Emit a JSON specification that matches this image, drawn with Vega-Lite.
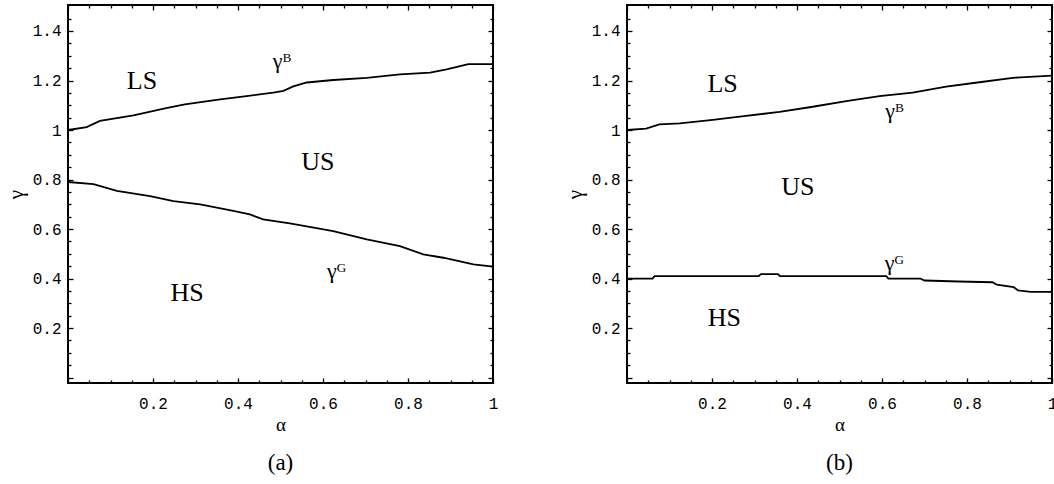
{
  "$schema": "https://vega.github.io/schema/vega-lite/v6.json",
  "background": "white",
  "padding": {"left": 4, "top": 3, "right": 1, "bottom": 0},
  "bounds": "flush",
  "spacing": 134,
  "config": {
    "view": {"stroke": "black", "strokeWidth": 2},
    "font": "Liberation Serif",
    "axis": {
      "grid": false,
      "domain": false,
      "tickColor": "black",
      "tickWidth": 1.3,
      "labelFont": "Liberation Mono",
      "labelFontSize": 16,
      "labelColor": "black",
      "labelOverlap": false,
      "labelFlush": false,
      "titleFont": "Liberation Serif",
      "titleFontWeight": "normal",
      "titleColor": "black"
    },
    "title": {"font": "Liberation Serif", "fontSize": 23, "fontWeight": "normal", "color": "black"}
  },
  "datasets": {
    "curves": [
      {"panel": "a", "curve": "B", "alpha": 0, "gamma": 1.0},
      {"panel": "a", "curve": "B", "alpha": 0.044, "gamma": 1.012},
      {"panel": "a", "curve": "B", "alpha": 0.075, "gamma": 1.037},
      {"panel": "a", "curve": "B", "alpha": 0.154, "gamma": 1.059},
      {"panel": "a", "curve": "B", "alpha": 0.231, "gamma": 1.088},
      {"panel": "a", "curve": "B", "alpha": 0.275, "gamma": 1.104},
      {"panel": "a", "curve": "B", "alpha": 0.358, "gamma": 1.124},
      {"panel": "a", "curve": "B", "alpha": 0.42, "gamma": 1.137},
      {"panel": "a", "curve": "B", "alpha": 0.483, "gamma": 1.151},
      {"panel": "a", "curve": "B", "alpha": 0.507, "gamma": 1.158},
      {"panel": "a", "curve": "B", "alpha": 0.53, "gamma": 1.176},
      {"panel": "a", "curve": "B", "alpha": 0.562, "gamma": 1.192},
      {"panel": "a", "curve": "B", "alpha": 0.624, "gamma": 1.202},
      {"panel": "a", "curve": "B", "alpha": 0.703, "gamma": 1.211},
      {"panel": "a", "curve": "B", "alpha": 0.781, "gamma": 1.225},
      {"panel": "a", "curve": "B", "alpha": 0.852, "gamma": 1.232},
      {"panel": "a", "curve": "B", "alpha": 0.891, "gamma": 1.245},
      {"panel": "a", "curve": "B", "alpha": 0.942, "gamma": 1.266},
      {"panel": "a", "curve": "B", "alpha": 1.0, "gamma": 1.266},
      {"panel": "a", "curve": "G", "alpha": 0, "gamma": 0.79},
      {"panel": "a", "curve": "G", "alpha": 0.06, "gamma": 0.781},
      {"panel": "a", "curve": "G", "alpha": 0.115, "gamma": 0.754},
      {"panel": "a", "curve": "G", "alpha": 0.193, "gamma": 0.733},
      {"panel": "a", "curve": "G", "alpha": 0.248, "gamma": 0.713},
      {"panel": "a", "curve": "G", "alpha": 0.311, "gamma": 0.7},
      {"panel": "a", "curve": "G", "alpha": 0.389, "gamma": 0.673},
      {"panel": "a", "curve": "G", "alpha": 0.428, "gamma": 0.659},
      {"panel": "a", "curve": "G", "alpha": 0.459, "gamma": 0.639},
      {"panel": "a", "curve": "G", "alpha": 0.522, "gamma": 0.623},
      {"panel": "a", "curve": "G", "alpha": 0.624, "gamma": 0.592},
      {"panel": "a", "curve": "G", "alpha": 0.703, "gamma": 0.558},
      {"panel": "a", "curve": "G", "alpha": 0.781, "gamma": 0.531},
      {"panel": "a", "curve": "G", "alpha": 0.836, "gamma": 0.498},
      {"panel": "a", "curve": "G", "alpha": 0.883, "gamma": 0.484},
      {"panel": "a", "curve": "G", "alpha": 0.954, "gamma": 0.457},
      {"panel": "a", "curve": "G", "alpha": 1.0, "gamma": 0.448},
      {"panel": "b", "curve": "B", "alpha": 0, "gamma": 1.0},
      {"panel": "b", "curve": "B", "alpha": 0.045, "gamma": 1.006},
      {"panel": "b", "curve": "B", "alpha": 0.076, "gamma": 1.023},
      {"panel": "b", "curve": "B", "alpha": 0.124, "gamma": 1.027},
      {"panel": "b", "curve": "B", "alpha": 0.202, "gamma": 1.041},
      {"panel": "b", "curve": "B", "alpha": 0.28, "gamma": 1.057},
      {"panel": "b", "curve": "B", "alpha": 0.359, "gamma": 1.073},
      {"panel": "b", "curve": "B", "alpha": 0.437, "gamma": 1.094},
      {"panel": "b", "curve": "B", "alpha": 0.516, "gamma": 1.117},
      {"panel": "b", "curve": "B", "alpha": 0.594, "gamma": 1.137},
      {"panel": "b", "curve": "B", "alpha": 0.672, "gamma": 1.151},
      {"panel": "b", "curve": "B", "alpha": 0.751, "gamma": 1.175},
      {"panel": "b", "curve": "B", "alpha": 0.829, "gamma": 1.193},
      {"panel": "b", "curve": "B", "alpha": 0.908, "gamma": 1.211},
      {"panel": "b", "curve": "B", "alpha": 1.0, "gamma": 1.22},
      {"panel": "b", "curve": "G", "alpha": 0, "gamma": 0.4},
      {"panel": "b", "curve": "G", "alpha": 0.06, "gamma": 0.4},
      {"panel": "b", "curve": "G", "alpha": 0.065, "gamma": 0.41},
      {"panel": "b", "curve": "G", "alpha": 0.31, "gamma": 0.41},
      {"panel": "b", "curve": "G", "alpha": 0.315, "gamma": 0.418},
      {"panel": "b", "curve": "G", "alpha": 0.355, "gamma": 0.418},
      {"panel": "b", "curve": "G", "alpha": 0.36, "gamma": 0.41},
      {"panel": "b", "curve": "G", "alpha": 0.61, "gamma": 0.41},
      {"panel": "b", "curve": "G", "alpha": 0.615, "gamma": 0.4},
      {"panel": "b", "curve": "G", "alpha": 0.69, "gamma": 0.4},
      {"panel": "b", "curve": "G", "alpha": 0.7, "gamma": 0.392},
      {"panel": "b", "curve": "G", "alpha": 0.78, "gamma": 0.388},
      {"panel": "b", "curve": "G", "alpha": 0.86, "gamma": 0.385},
      {"panel": "b", "curve": "G", "alpha": 0.87, "gamma": 0.375},
      {"panel": "b", "curve": "G", "alpha": 0.91, "gamma": 0.365},
      {"panel": "b", "curve": "G", "alpha": 0.92, "gamma": 0.352},
      {"panel": "b", "curve": "G", "alpha": 0.95, "gamma": 0.346},
      {"panel": "b", "curve": "G", "alpha": 1.0, "gamma": 0.346}
    ],
    "regions": [
      {"panel": "a", "label": "LS", "alpha": 0.174, "gamma": 1.198},
      {"panel": "a", "label": "US", "alpha": 0.588, "gamma": 0.871},
      {"panel": "a", "label": "HS", "alpha": 0.28, "gamma": 0.341},
      {"panel": "b", "label": "LS", "alpha": 0.225, "gamma": 1.184},
      {"panel": "b", "label": "US", "alpha": 0.402, "gamma": 0.769},
      {"panel": "b", "label": "HS", "alpha": 0.229, "gamma": 0.24}
    ],
    "curvelabels": [
      {"panel": "a", "label": "γᴮ", "alpha": 0.503, "gamma": 1.279},
      {"panel": "a", "label": "γᴳ", "alpha": 0.632, "gamma": 0.43},
      {"panel": "b", "label": "γᴮ", "alpha": 0.629, "gamma": 1.077},
      {"panel": "b", "label": "γᴳ", "alpha": 0.629, "gamma": 0.461}
    ]
  },
  "hconcat": [
    {
      "width": 425,
      "height": 378,
      "title": {"text": "(a)", "orient": "bottom", "offset": 18},
      "layer": [
        {
          "data": {"name": "curves"},
          "transform": [{"filter": "datum.panel == 'a'"}],
          "mark": {"type": "line", "color": "black", "strokeWidth": 1.8},
          "encoding": {
            "x": {"field": "alpha", "type": "quantitative", "scale": {"domain": [0, 1], "nice": false, "zero": false},
              "axis": {"orient": "bottom", "title": "α", "titleFontSize": 19, "titlePadding": 2,
                "values": [0,0.05,0.1,0.15,0.2,0.25,0.3,0.35,0.4,0.45,0.5,0.55,0.6,0.65,0.7,0.75,0.8,0.85,0.9,0.95,1],
                "tickSize": {"condition": {"test": "abs(datum.value*5 - round(datum.value*5)) < 0.000001", "value": -5}, "value": -3},
                "labelPadding": 17,
                "labelExpr": "(abs(datum.value*5 - round(datum.value*5)) < 0.000001 && datum.value > 0.01) ? format(datum.value, '.1~f') : ''"}},
            "y": {"field": "gamma", "type": "quantitative", "scale": {"domain": [-0.022, 1.505], "nice": false, "zero": false},
              "axis": {"orient": "left", "title": "γ", "titleFontSize": 21, "titlePadding": 6,
                "values": [0,0.05,0.1,0.15,0.2,0.25,0.3,0.35,0.4,0.45,0.5,0.55,0.6,0.65,0.7,0.75,0.8,0.85,0.9,0.95,1,1.05,1.1,1.15,1.2,1.25,1.3,1.35,1.4,1.45],
                "tickSize": {"condition": {"test": "abs(datum.value*5 - round(datum.value*5)) < 0.000001", "value": -5}, "value": -3},
                "labelPadding": 12,
                "labelExpr": "(abs(datum.value*5 - round(datum.value*5)) < 0.000001 && datum.value > 0.01) ? format(datum.value, '.1~f') : ''"}},
            "detail": {"field": "curve"}
          }
        },
        {
          "data": {"name": "regions"},
          "transform": [{"filter": "datum.panel == 'a'"}],
          "mark": {"type": "text", "font": "Liberation Serif", "fontSize": 26, "color": "black", "baseline": "middle"},
          "encoding": {
            "x": {"field": "alpha", "type": "quantitative", "scale": {"domain": [0, 1], "nice": false, "zero": false},
              "axis": {"orient": "top", "title": null, "labels": false,
                "values": [0,0.05,0.1,0.15,0.2,0.25,0.3,0.35,0.4,0.45,0.5,0.55,0.6,0.65,0.7,0.75,0.8,0.85,0.9,0.95,1],
                "tickSize": {"condition": {"test": "abs(datum.value*5 - round(datum.value*5)) < 0.000001", "value": -5}, "value": -3}}},
            "y": {"field": "gamma", "type": "quantitative", "scale": {"domain": [-0.022, 1.505], "nice": false, "zero": false},
              "axis": {"orient": "right", "title": null, "labels": false,
                "values": [0,0.05,0.1,0.15,0.2,0.25,0.3,0.35,0.4,0.45,0.5,0.55,0.6,0.65,0.7,0.75,0.8,0.85,0.9,0.95,1,1.05,1.1,1.15,1.2,1.25,1.3,1.35,1.4,1.45],
                "tickSize": {"condition": {"test": "abs(datum.value*5 - round(datum.value*5)) < 0.000001", "value": -5}, "value": -3}}},
            "text": {"field": "label"}
          }
        },
        {
          "data": {"name": "curvelabels"},
          "transform": [{"filter": "datum.panel == 'a'"}],
          "mark": {"type": "text", "font": "Liberation Serif", "fontSize": 22, "color": "black", "baseline": "middle"},
          "encoding": {
            "x": {"field": "alpha", "type": "quantitative", "scale": {"domain": [0, 1], "nice": false, "zero": false}, "axis": null},
            "y": {"field": "gamma", "type": "quantitative", "scale": {"domain": [-0.022, 1.505], "nice": false, "zero": false}, "axis": null},
            "text": {"field": "label"}
          }
        }
      ],
      "resolve": {"axis": {"x": "independent", "y": "independent"}}
    },
    {
      "width": 425,
      "height": 378,
      "title": {"text": "(b)", "orient": "bottom", "offset": 18},
      "layer": [
        {
          "data": {"name": "curves"},
          "transform": [{"filter": "datum.panel == 'b'"}],
          "mark": {"type": "line", "color": "black", "strokeWidth": 1.8},
          "encoding": {
            "x": {"field": "alpha", "type": "quantitative", "scale": {"domain": [0, 1], "nice": false, "zero": false},
              "axis": {"orient": "bottom", "title": "α", "titleFontSize": 19, "titlePadding": 2,
                "values": [0,0.05,0.1,0.15,0.2,0.25,0.3,0.35,0.4,0.45,0.5,0.55,0.6,0.65,0.7,0.75,0.8,0.85,0.9,0.95,1],
                "tickSize": {"condition": {"test": "abs(datum.value*5 - round(datum.value*5)) < 0.000001", "value": -5}, "value": -3},
                "labelPadding": 17,
                "labelExpr": "(abs(datum.value*5 - round(datum.value*5)) < 0.000001 && datum.value > 0.01) ? format(datum.value, '.1~f') : ''"}},
            "y": {"field": "gamma", "type": "quantitative", "scale": {"domain": [-0.022, 1.505], "nice": false, "zero": false},
              "axis": {"orient": "left", "title": "γ", "titleFontSize": 21, "titlePadding": 6,
                "values": [0,0.05,0.1,0.15,0.2,0.25,0.3,0.35,0.4,0.45,0.5,0.55,0.6,0.65,0.7,0.75,0.8,0.85,0.9,0.95,1,1.05,1.1,1.15,1.2,1.25,1.3,1.35,1.4,1.45],
                "tickSize": {"condition": {"test": "abs(datum.value*5 - round(datum.value*5)) < 0.000001", "value": -5}, "value": -3},
                "labelPadding": 12,
                "labelExpr": "(abs(datum.value*5 - round(datum.value*5)) < 0.000001 && datum.value > 0.01) ? format(datum.value, '.1~f') : ''"}},
            "detail": {"field": "curve"}
          }
        },
        {
          "data": {"name": "regions"},
          "transform": [{"filter": "datum.panel == 'b'"}],
          "mark": {"type": "text", "font": "Liberation Serif", "fontSize": 26, "color": "black", "baseline": "middle"},
          "encoding": {
            "x": {"field": "alpha", "type": "quantitative", "scale": {"domain": [0, 1], "nice": false, "zero": false},
              "axis": {"orient": "top", "title": null, "labels": false,
                "values": [0,0.05,0.1,0.15,0.2,0.25,0.3,0.35,0.4,0.45,0.5,0.55,0.6,0.65,0.7,0.75,0.8,0.85,0.9,0.95,1],
                "tickSize": {"condition": {"test": "abs(datum.value*5 - round(datum.value*5)) < 0.000001", "value": -5}, "value": -3}}},
            "y": {"field": "gamma", "type": "quantitative", "scale": {"domain": [-0.022, 1.505], "nice": false, "zero": false},
              "axis": {"orient": "right", "title": null, "labels": false,
                "values": [0,0.05,0.1,0.15,0.2,0.25,0.3,0.35,0.4,0.45,0.5,0.55,0.6,0.65,0.7,0.75,0.8,0.85,0.9,0.95,1,1.05,1.1,1.15,1.2,1.25,1.3,1.35,1.4,1.45],
                "tickSize": {"condition": {"test": "abs(datum.value*5 - round(datum.value*5)) < 0.000001", "value": -5}, "value": -3}}},
            "text": {"field": "label"}
          }
        },
        {
          "data": {"name": "curvelabels"},
          "transform": [{"filter": "datum.panel == 'b'"}],
          "mark": {"type": "text", "font": "Liberation Serif", "fontSize": 22, "color": "black", "baseline": "middle"},
          "encoding": {
            "x": {"field": "alpha", "type": "quantitative", "scale": {"domain": [0, 1], "nice": false, "zero": false}, "axis": null},
            "y": {"field": "gamma", "type": "quantitative", "scale": {"domain": [-0.022, 1.505], "nice": false, "zero": false}, "axis": null},
            "text": {"field": "label"}
          }
        }
      ],
      "resolve": {"axis": {"x": "independent", "y": "independent"}}
    }
  ]
}
